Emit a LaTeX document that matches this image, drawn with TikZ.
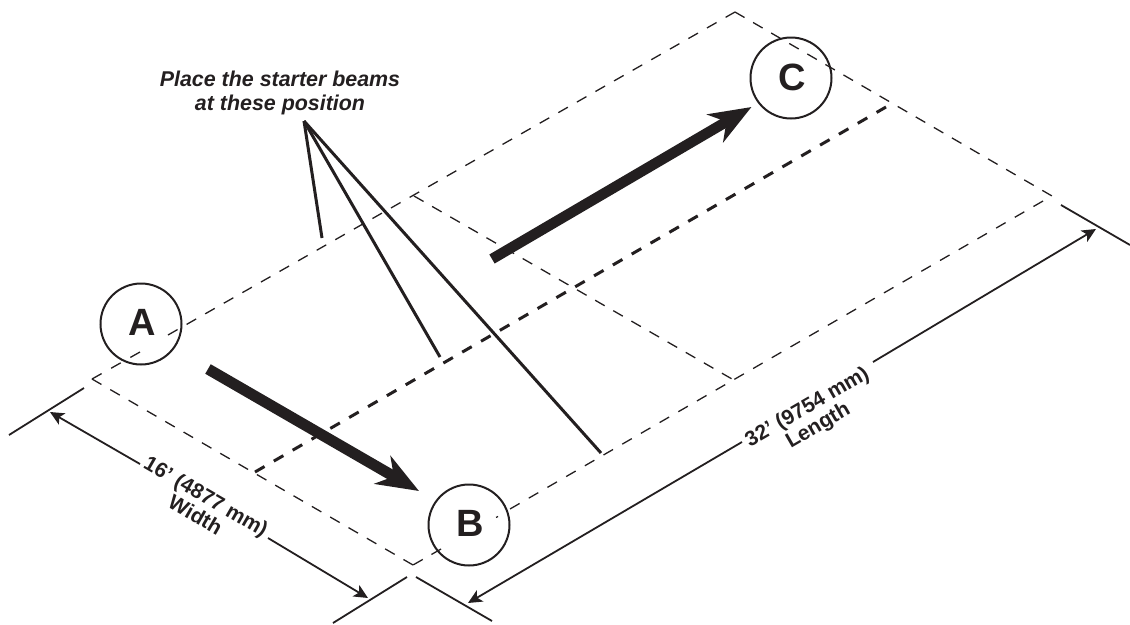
\documentclass[tikz,border=0pt]{standalone}
\usepackage{fontspec}
\setmainfont{Liberation Sans}
\usetikzlibrary{arrows.meta}
\definecolor{ink}{HTML}{231F20}
\tikzset{
  thindash/.style={draw=ink,line width=1.3pt,dash pattern=on 11pt off #1pt},
  thickdash/.style={draw=ink,line width=3pt,dash pattern=on 11pt off #1pt},
  extline/.style={draw=ink,line width=1.8pt},
  pointer/.style={draw=ink,line width=3pt},
  dimline/.style={draw=ink,line width=1.8pt,-{Stealth[length=14pt,width=13pt,inset=3.5pt]}},
  bigarrow/.style={draw=ink,line width=#1,-{Stealth[length=42pt,width=32pt,inset=13pt]}},
  marker/.style={circle,draw=ink,line width=2pt,minimum size=81pt,inner sep=0pt,font=\fontsize{38}{38}\selectfont\bfseries,text=ink},
  dimtext/.style={align=center,text=ink,font=\fontsize{21}{21.5}\selectfont\bfseries}
}
\newcommand{\mk}[1]{\raisebox{2.5pt}{\hspace*{3pt}#1}}
\begin{document}
\begin{tikzpicture}[x=1pt,y=-1pt]
\useasboundingbox (0,0) rectangle (1130,624);
% corners
\coordinate (pL) at (92,379);
\coordinate (pB) at (413,565);
\coordinate (pR) at (1052,196);
\coordinate (pR2) at (1043,201);
\coordinate (pT) at (735,12);
\coordinate (pM1) at (414,196);
\coordinate (pM2) at (732,379);
\coordinate (tk1) at (255,472);
\coordinate (tk2) at (886,107);
% gaps through circles
\coordinate (gA1) at (140,352);
\coordinate (gA2) at (168,335);
\coordinate (gB1) at (441,549);
\coordinate (gB2) at (496,517.5);
\coordinate (gB3) at (498,516.5);
\coordinate (gB4) at (510,509);
% dashed outline
\draw[thindash=11] (pL) -- (gA1);
\draw[thindash=10.39] (gA2) -- (pT);
\draw[thindash=9.9] (pT) -- (pR);
\draw[thindash=10.59] (pR2) -- (gB4);
\draw[thindash=10] (gB3) -- (gB2);
\draw[thindash=10] (gB1) -- (pB);
\draw[thindash=10.18] (pB) -- (pL);
\draw[thindash=9.9] (pM1) -- (pM2);
\draw[thickdash=10.76] (tk1) -- (tk2);
% extension lines
\coordinate (e1a) at (9,435);   \coordinate (e1b) at (84,388);
\coordinate (e2a) at (333,623); \coordinate (e2b) at (407,577);
\coordinate (e3a) at (416,577); \coordinate (e3b) at (492,621);
\coordinate (e4a) at (1061,205);\coordinate (e4b) at (1130,245);
\draw[extline] (e1a) -- (e1b);
\draw[extline] (e2a) -- (e2b);
\draw[extline] (e3a) -- (e3b);
\draw[extline] (e4a) -- (e4b);
% dimension lines
\coordinate (w1) at (50,412);  \coordinate (w2) at (140,464);
\coordinate (w3) at (268,538); \coordinate (w4) at (368,598);
\coordinate (l1) at (468,603); \coordinate (l2) at (742,442);
\coordinate (l3) at (873,362); \coordinate (l4) at (1096,229);
\draw[dimline] (w2) -- (w1);
\draw[dimline] (w3) -- (w4);
\draw[dimline] (l2) -- (l1);
\draw[dimline] (l3) -- (l4);
\node[dimtext,rotate=-30] (wlab) at (201,505.5) {16' (4877 mm)\\Width};
\node[dimtext,rotate=30] (llab) at (813,417) {32' (9754 mm)\\Length};
% pointers
\coordinate (apex) at (304,121);
\coordinate (s1) at (322,238);
\coordinate (s2) at (440,357);
\coordinate (s3) at (601,453);
\draw[pointer] (apex) -- (s1);
\draw[pointer] (apex) -- (s2);
\draw[pointer] (apex) -- (s3);
\node[align=center,text=ink,font=\fontsize{21.4}{23.7}\selectfont\bfseries\itshape] (note) at (280,93) {Place the starter beams\\at these position};
% markers
\node[marker] (A) at (141,324) {\mk{A}};
\node[marker] (B) at (469,525) {\mk{B}};
\node[marker] (C) at (791,78) {\mk{C}};
% big arrows
\coordinate (a1) at (208,369); \coordinate (a2) at (419,491);
\coordinate (b1) at (492,259); \coordinate (b2) at (751.5,107);
\draw[bigarrow=11pt] (a1) -- (a2);
\draw[bigarrow=10.5pt] (b1) -- (b2);
\end{tikzpicture}
\end{document}
